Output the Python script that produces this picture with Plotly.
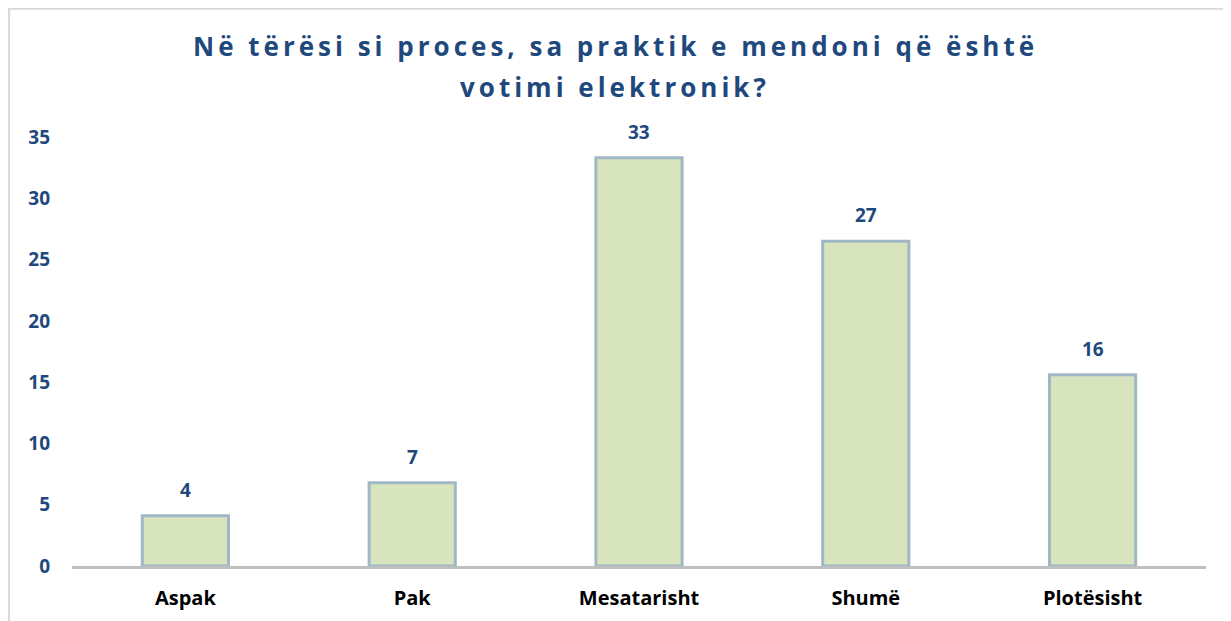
import plotly.graph_objects as go

categories = ["Aspak", "Pak", "Mesatarisht", "Shumë", "Plotësisht"]
values = [4.1, 6.8, 33.3, 26.5, 15.6]
y_ticks = [0, 5, 10, 15, 20, 25, 30, 35]
title_lines = ["Në tërësi si proces, sa praktik e mendoni që është", "votimi elektronik?"]

BLUE = "#1F497D"
FONT = "Open Sans"

fig = go.Figure()
fig.add_trace(go.Bar(
    x=categories, y=values,
    width=0.38,
    marker=dict(color="#D7E4BD", line=dict(color="#A0B8C6", width=3)),
    hoverinfo="x+y",
))

for c, v in zip(categories, values):
    fig.add_annotation(
        x=c, y=v, text=str(int(v + 0.5)),
        showarrow=False, yanchor="bottom", yshift=11,
        font=dict(family=FONT, size=19, color=BLUE, weight="bold"),
    )

# title as two centred lines
for line, ypos in zip(title_lines, [1.2126, 1.1168]):
    fig.add_annotation(
        xref="paper", yref="paper", x=0.479, y=ypos, xanchor="center", yanchor="middle",
        text=f'<span style="letter-spacing:4px">{line}</span>', showarrow=False,
        font=dict(family=FONT, size=26, color=BLUE, weight="bold"),
    )

fig.update_layout(
    width=1223, height=613,
    margin=dict(l=64, r=25, t=129, b=55),
    paper_bgcolor="white", plot_bgcolor="white",
    showlegend=False,
    xaxis=dict(showline=True, linecolor="#BFBFBF", linewidth=3, showgrid=False,
               ticks="", ticklabelstandoff=12, automargin=False,
               tickfont=dict(family=FONT, size=20, color="black", weight="bold")),
    yaxis=dict(range=[0, 35], tickvals=y_ticks, showgrid=False, zeroline=False,
               showline=False, ticks="", ticklabelstandoff=21, automargin=False,
               tickfont=dict(family=FONT, size=19, color=BLUE, weight="bold")),
    shapes=[
        dict(type="line", xref="paper", yref="paper", x0=-0.0564, x1=1.03, y0=1.299, y1=1.299,
             line=dict(color="#D9D9D9", width=2)),
        dict(type="line", xref="paper", yref="paper", x0=-0.0555, x1=-0.0555, y0=1.299, y1=-0.2,
             line=dict(color="#D9D9D9", width=2)),
    ],
)

fig.write_html("out.html")
